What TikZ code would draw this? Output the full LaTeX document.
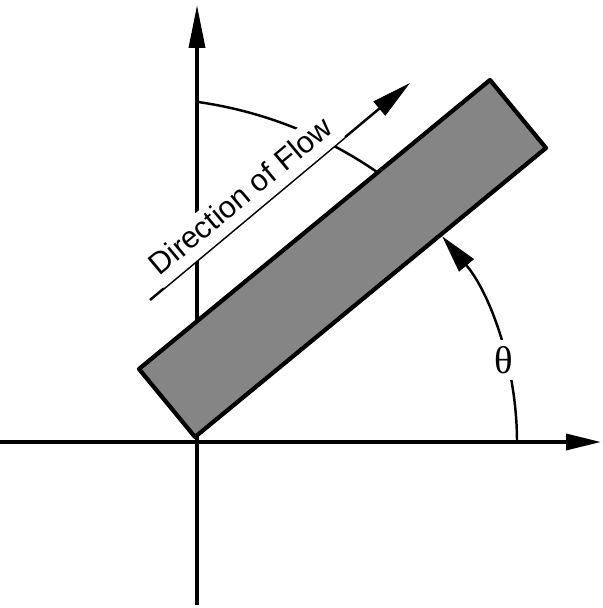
\documentclass[tikz,border=0pt]{standalone}
\usepackage{fontspec}
\setmainfont{Liberation Sans}
\newfontfamily\greekfont{Liberation Serif}
\usetikzlibrary{arrows.meta}

\begin{document}
\begin{tikzpicture}[x=0.02cm, y=0.02cm,
      axis/.style={line width=2pt, -{Triangle[length=0.7cm, width=0.32cm]}},
      arcline/.style={line width=1.4pt},
      flowarr/.style={line width=1.4pt, -{Triangle[length=0.8cm, width=0.36cm]}},
      plate/.style={draw, line width=2.4pt, line join=round, fill=black!48},
      lbl/.style={fill=white, font=\fontsize{17.4}{21}\selectfont, inner sep=0.08cm, text depth=0.14cm},
      anglbl/.style={fill=white, font=\greekfont\fontsize{22}{26}\selectfont, inner sep=0.12cm}
    ]
    \useasboundingbox (-197,-166) rectangle (405,442);
    \coordinate (O) at (0,0);
    \coordinate (xl) at (-197,0);
    \coordinate (xr) at (404,0);
    \coordinate (yb) at (0,-163);
    \coordinate (yt) at (0,437);
    \coordinate (pB) at (-2,5);
    \coordinate (pR) at (349,294);
    \coordinate (pT) at (293,362);
    \coordinate (pL) at (-58,73);
    \coordinate (f0) at (-47,142);
    \coordinate (f1) at (213,359);
    \coordinate (a0) at (1,340);
    \coordinate (t0) at (320,0);
    \draw[axis] (xl) -- (xr);
    \draw[axis, -{Triangle[length=0.86cm, width=0.32cm]}] (yb) -- (yt);
    \draw[plate] (pB) -- (pR) -- (pT) -- (pL) -- cycle;
    \draw[arcline] (a0) arc[start angle=81.9, end angle=55.4, radius=419];
    \draw[flowarr] (f0) -- (f1);
    \draw[arcline, -{Triangle[length=0.76cm, width=0.38cm]}] (t0) arc[start angle=0, end angle=40, radius=320];
    \node[lbl, anchor=south west, rotate=39.85] (flow) at (-33.2,153.5) {Direction of Flow};
    \node[anglbl] (theta) at (307,82) {θ};
  \end{tikzpicture}
\end{document}
